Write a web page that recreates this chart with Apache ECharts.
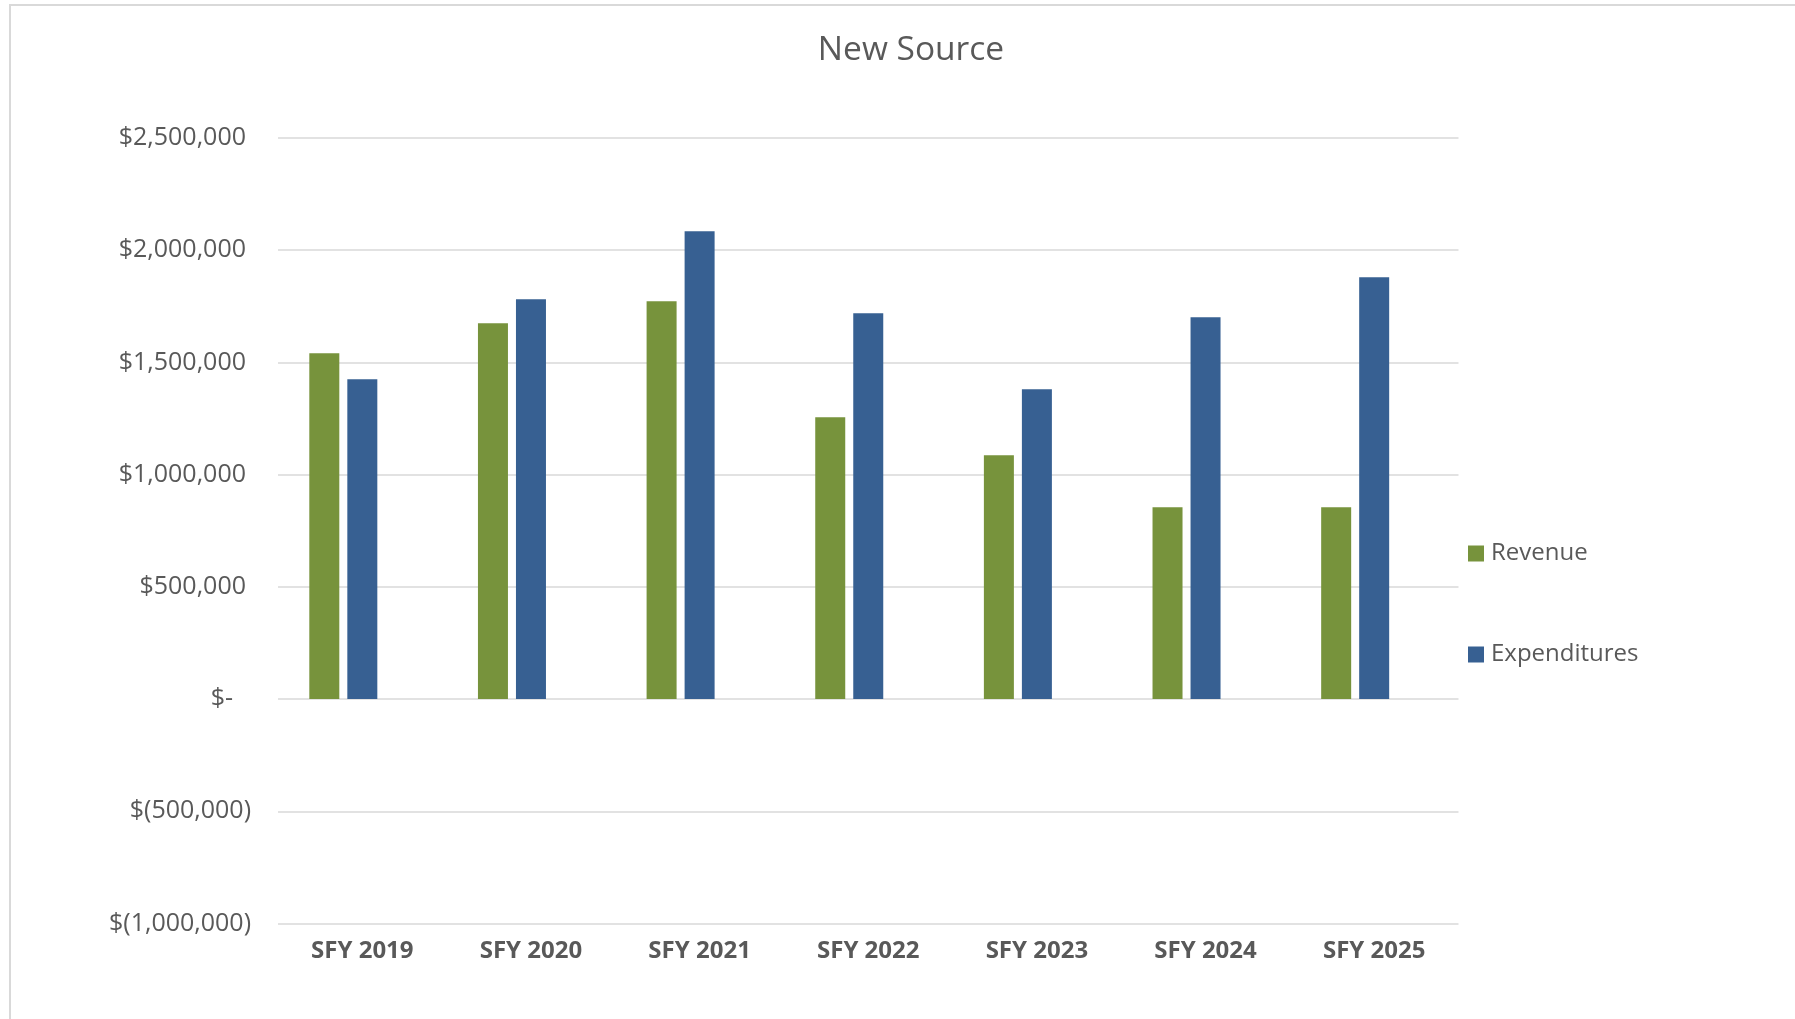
<!DOCTYPE html>
<html>
<head>
<meta charset="utf-8">
<title>New Source</title>
<script src="https://cdn.jsdelivr.net/npm/echarts@6/dist/echarts.min.js"></script>
<style>
  html, body { margin: 0; padding: 0; background: #ffffff; }
  #chart { width: 1795px; height: 1019px; }
</style>
</head>
<body>
<div id="chart"></div>
<script>
// Fiscal years on the category axis
const categories = ['SFY 2019', 'SFY 2020', 'SFY 2021', 'SFY 2022', 'SFY 2023', 'SFY 2024', 'SFY 2025'];

// Dollar amounts per fiscal year
const revenue      = [1541000, 1675000, 1773000, 1256000, 1086000, 855000, 855000];
const expenditures = [1425000, 1781000, 2085000, 1719000, 1381000, 1701000, 1880000];

// Value axis range
const yMin = -1000000;
const yMax = 2500000;
const yStep = 500000;

const TEXT = '#595959';
const FONT = '"Open Sans", "Noto Sans", sans-serif';
const LABEL_SIZE = 25;

// Accounting-style currency: $1,000 / $(1,000) / $-
function money(v) {
  if (v === 0) return '{z|$-}';
  const s = Math.abs(v).toLocaleString('en-US');
  return v < 0 ? '{n|$(' + s + ')}' : '{p|$' + s + '}';
}

const chart = echarts.init(document.getElementById('chart'), null, { renderer: 'canvas' });

chart.setOption({
  backgroundColor: '#ffffff',
  animation: false,
  textStyle: { fontFamily: FONT, color: TEXT },
  graphic: [
    {
      type: 'rect',
      shape: { x: 10, y: 5, width: 1800, height: 1100 },
      style: { fill: 'none', stroke: '#D9D9D9', lineWidth: 2 },
      silent: true
    },
    {
      type: 'text',
      x: 911,
      y: 50.5,
      style: {
        text: 'New Source',
        fill: TEXT,
        font: '33.5px ' + FONT,
        textAlign: 'center',
        textVerticalAlign: 'middle'
      }
    }
  ],
  legend: {
    orient: 'vertical',
    left: 1468,
    top: 541.5,
    padding: 0,
    data: ['Revenue', 'Expenditures'],
    icon: 'rect',
    itemWidth: 16,
    itemHeight: 16,
    itemGap: 77,
    selectedMode: false,
    textStyle: { fontFamily: FONT, fontSize: 24, color: TEXT, padding: [0, 0, 0, 2] }
  },
  grid: {
    left: 278,
    right: 336.5,
    top: 138,
    bottom: 95.5,
    containLabel: false
  },
  xAxis: {
    type: 'category',
    data: categories,
    axisLine: { show: false, onZero: false },
    axisTick: { show: false },
    axisLabel: {
      margin: 16,
      fontFamily: FONT,
      fontSize: 24,
      fontWeight: 'bold',
      color: TEXT
    },
    splitLine: { show: false }
  },
  yAxis: {
    type: 'value',
    min: yMin,
    max: yMax,
    interval: yStep,
    axisLine: { show: false },
    axisTick: { show: false },
    splitLine: { lineStyle: { color: '#D9D9D9', width: 1.5 } },
    axisLabel: {
      margin: 27,
      formatter: money,
      rich: {
        p: { fontFamily: FONT, fontSize: LABEL_SIZE, color: TEXT, padding: [0, 5, 0, 0] },
        n: { fontFamily: FONT, fontSize: LABEL_SIZE, color: TEXT },
        z: { fontFamily: FONT, fontSize: LABEL_SIZE, color: TEXT, padding: [0, 18, 0, 0] }
      }
    }
  },
  series: [
    {
      name: 'Revenue',
      type: 'bar',
      data: revenue,
      barWidth: 30,
      barGap: '26.7%',
      itemStyle: { color: '#77933C' }
    },
    {
      name: 'Expenditures',
      type: 'bar',
      data: expenditures,
      barWidth: 30,
      barGap: '26.7%',
      itemStyle: { color: '#376092' }
    },
    {
      // empty third slot in each group
      type: 'bar',
      data: [],
      barWidth: 30,
      barGap: '26.7%',
      silent: true
    }
  ]
});
</script>
</body>
</html>
